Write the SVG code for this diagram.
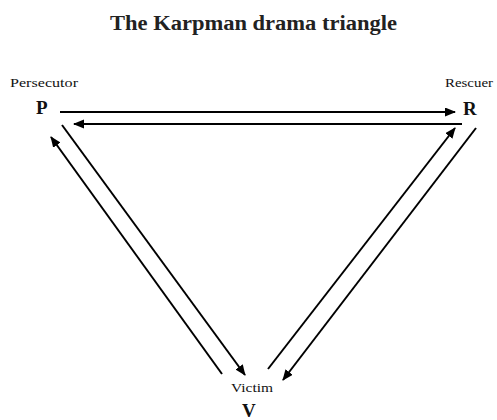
<svg xmlns="http://www.w3.org/2000/svg" width="497" height="420" viewBox="0 0 497 420">
<style>
.title{font-family:"Liberation Serif","DejaVu Serif",serif;font-weight:bold;font-size:20px;fill:#222}
.lbl{font-family:"Liberation Serif","DejaVu Serif",serif;font-size:13px;fill:#111}
.big{font-family:"Liberation Serif","DejaVu Serif",serif;font-weight:bold;font-size:19px;fill:#111}
.ln{stroke:#000;stroke-width:2;fill:none;marker-end:url(#ah)}
</style>
<defs>
<marker id="ah" markerUnits="userSpaceOnUse" markerWidth="12" markerHeight="10" refX="10" refY="4.5" orient="auto">
<path d="M0,0 L11,4.5 L0,9 Z" fill="#000"/>
</marker>
</defs>
<rect width="497" height="420" fill="#fff"/>
<text class="title" x="110" y="30" textLength="287" lengthAdjust="spacingAndGlyphs">The Karpman drama triangle</text>
<g id="persecutor">
<text class="lbl" x="10" y="87" textLength="68" lengthAdjust="spacingAndGlyphs">Persecutor</text>
<text class="big" x="36" y="114">P</text>
</g>
<g id="rescuer">
<text class="lbl" x="445" y="87" textLength="48" lengthAdjust="spacingAndGlyphs">Rescuer</text>
<text class="big" x="463" y="115">R</text>
</g>
<g id="victim">
<text class="lbl" x="231" y="392" textLength="42" lengthAdjust="spacingAndGlyphs">Victim</text>
<text class="big" x="242" y="417">V</text>
</g>
<g id="connectors">
<line class="ln" x1="60" y1="112" x2="455" y2="112"/>
<line class="ln" x1="462" y1="124" x2="74" y2="124"/>
<line class="ln" x1="62" y1="125" x2="245" y2="375"/>
<line class="ln" x1="222" y1="374" x2="51" y2="137"/>
<line class="ln" x1="268" y1="369" x2="455" y2="128"/>
<line class="ln" x1="476" y1="128" x2="283" y2="380"/>
</g>
</svg>
